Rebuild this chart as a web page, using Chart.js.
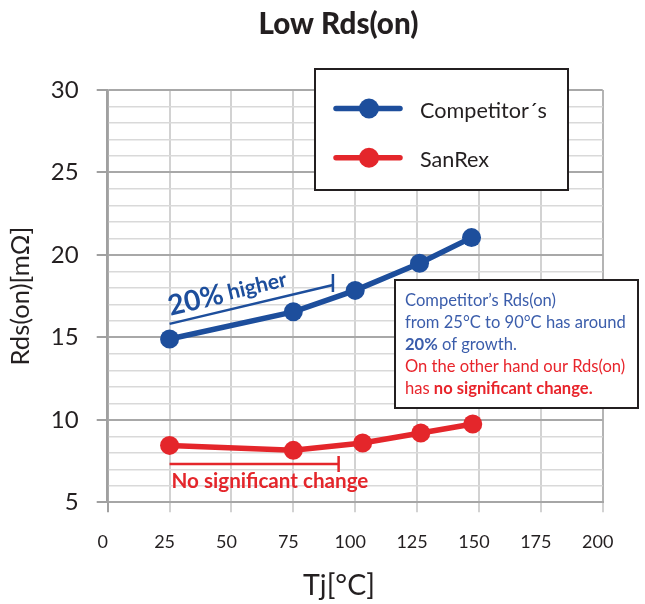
<!DOCTYPE html>
<html>
<head>
<meta charset="utf-8">
<script src="https://cdn.jsdelivr.net/npm/chart.js@4.4.1/dist/chart.umd.min.js"></script>
<style>
html,body{margin:0;padding:0;background:#ffffff;}
#wrap{width:645px;height:604px;position:relative;}
</style>
</head>
<body>
<div id="wrap"><canvas id="c" width="645" height="604"></canvas></div>
<script>
// ---- data ----
const chartTitle = 'Low Rds(on)';
const xAxisTitle = 'Tj[°C]';
const yAxisTitle = 'Rds(on)[mΩ]';
const seriesNames = ['Competitor´s', 'SanRex'];
const competitorTemps = [25, 75, 100, 126, 147];
const competitorRds = [14.9, 16.55, 17.85, 19.5, 21.05];
const sanrexTemps = [25, 75, 103, 126.5, 147.5];
const sanrexRds = [8.45, 8.15, 8.6, 9.2, 9.75];
const xTickValues = [0, 25, 50, 75, 100, 125, 150, 175, 200];
const yTickValues = [5, 10, 15, 20, 25, 30];
const higherLabel = ['20%', ' higher'];
const noChangeLabel = 'No significant change';
const noteLines = [
  [['Competitor’s Rds(on)', 0, 'b']],
  [['from 25°C to 90°C has around', 0, 'b']],
  [['20%', 1, 'b'], [' of growth.', 0, 'b']],
  [['On the other hand our Rds(on)', 0, 'r']],
  [['has ', 0, 'r'], ['no significant change.', 1, 'r']]
];

// ---- styles ----
const BLUE = '#1d4e9c', RED = '#e4262b';
const NOTE_BLUE = '#3b5dab', NOTE_RED = '#e8242b';
const TXT = '#231f20';
const FAM = 'Lato, "Noto Sans", sans-serif';

const mc = document.createElement('canvas').getContext('2d');
function fit(text, weight, width) {
  mc.font = weight + ' 100px ' + FAM;
  return 100 * width / mc.measureText(text).width;
}
const titleSize = fit(chartTitle, 900, 160);
const xTitleSize = fit(xAxisTitle, 400, 72);
const yTitleSize = fit(yAxisTitle, 400, 139);
const legendSize = fit(seriesNames[0], 400, 127);
const noteSize = fit(noteLines[1][0][0], 400, 221);
const noChangeSize = fit(noChangeLabel, 700, 197);
const pctSize = fit(higherLabel[0], 700, 56);
const higherSize = fit(higherLabel[1].trim(), 700, 60);

const yStep = [];
for (let v = yTickValues[0]; v <= yTickValues[yTickValues.length - 1]; v++) yStep.push(v);

const overlay = {
  id: 'overlay',
  afterDraw(chart) {
    const ctx = chart.ctx;
    const x = chart.scales.x, y = chart.scales.y;
    ctx.save();
    // title
    ctx.fillStyle = TXT;
    ctx.textAlign = 'left';
    ctx.textBaseline = 'alphabetic';
    ctx.font = '900 ' + titleSize + 'px ' + FAM;
    ctx.fillText(chartTitle, 258.5, 33.5);
    // x axis title
    ctx.font = '400 ' + xTitleSize + 'px ' + FAM;
    ctx.textAlign = 'center';
    ctx.fillText(xAxisTitle, 339, 595);

    // legend box
    ctx.fillStyle = '#ffffff';
    ctx.fillRect(315, 69, 253, 121);
    ctx.strokeStyle = TXT;
    ctx.lineWidth = 2;
    ctx.strokeRect(315, 69, 253, 121);
    const ly = [108.5, 157.7];
    chart.data.datasets.forEach((ds, i) => {
      ctx.strokeStyle = ds.borderColor;
      ctx.lineWidth = 5.5;
      ctx.lineCap = 'round';
      ctx.beginPath();
      ctx.moveTo(336, ly[i]);
      ctx.lineTo(400, ly[i]);
      ctx.stroke();
      ctx.fillStyle = ds.borderColor;
      ctx.beginPath();
      ctx.arc(369, ly[i], 10, 0, Math.PI * 2);
      ctx.fill();
      ctx.fillStyle = TXT;
      ctx.textAlign = 'left';
      ctx.font = '400 ' + legendSize + 'px ' + FAM;
      ctx.fillText(ds.label, 420, ly[i] + 9.5);
    });

    // note box
    ctx.fillStyle = '#ffffff';
    ctx.fillRect(395, 280, 243, 128);
    ctx.strokeStyle = TXT;
    ctx.lineWidth = 2;
    ctx.strokeRect(395, 280, 243, 128);
    ctx.textBaseline = 'alphabetic';
    noteLines.forEach((segs, i) => {
      let cx = 405;
      const by = 306 + i * 21.9;
      segs.forEach(s => {
        ctx.font = (s[1] ? '700 ' : '400 ') + noteSize + 'px ' + FAM;
        ctx.fillStyle = s[2] === 'b' ? NOTE_BLUE : NOTE_RED;
        ctx.fillText(s[0], cx, by);
        cx += ctx.measureText(s[0]).width;
      });
    });

    // "20% higher" bracket
    const bx0 = x.getPixelForValue(25), by0 = y.getPixelForValue(15.82);
    const bx1 = x.getPixelForValue(91), by1 = y.getPixelForValue(18.18);
    ctx.strokeStyle = BLUE;
    ctx.lineWidth = 2.5;
    ctx.lineCap = 'butt';
    ctx.beginPath();
    ctx.moveTo(bx0, by0); ctx.lineTo(bx1, by1);
    ctx.moveTo(bx1, by1 - 11); ctx.lineTo(bx1, by1 + 7);
    ctx.stroke();
    const ang = Math.atan2(by1 - by0, bx1 - bx0);
    ctx.save();
    ctx.translate(bx0 + 1, by0 - 8);
    ctx.rotate(ang);
    ctx.fillStyle = BLUE;
    ctx.textAlign = 'left';
    ctx.font = '700 ' + pctSize + 'px ' + FAM;
    ctx.fillText(higherLabel[0], 0, 0);
    const w0 = ctx.measureText(higherLabel[0]).width;
    ctx.font = '700 ' + higherSize + 'px ' + FAM;
    ctx.fillText(higherLabel[1], w0, -2);
    ctx.restore();

    // "No significant change" bracket
    const rx0 = x.getPixelForValue(25), rx1 = x.getPixelForValue(93.3);
    const ry = y.getPixelForValue(7.32);
    ctx.strokeStyle = RED;
    ctx.lineWidth = 2.5;
    ctx.beginPath();
    ctx.moveTo(rx0, ry); ctx.lineTo(rx1, ry);
    ctx.moveTo(rx1, ry - 8); ctx.lineTo(rx1, ry + 8);
    ctx.stroke();
    ctx.fillStyle = RED;
    ctx.font = '700 ' + noChangeSize + 'px ' + FAM;
    ctx.textAlign = 'left';
    ctx.fillText(noChangeLabel, 171.5, 487.5);
    ctx.restore();
  }
};

new Chart(document.getElementById('c'), {
  type: 'line',
  data: {
    datasets: [
      {
        label: seriesNames[0],
        data: competitorTemps.map((t, i) => ({x: t, y: competitorRds[i]})),
        borderColor: BLUE, backgroundColor: BLUE,
        borderWidth: 5.5, pointRadius: 9.5, pointBorderWidth: 0,
        pointBackgroundColor: BLUE, tension: 0, fill: false
      },
      {
        label: seriesNames[1],
        data: sanrexTemps.map((t, i) => ({x: t, y: sanrexRds[i]})),
        borderColor: RED, backgroundColor: RED,
        borderWidth: 5.5, pointRadius: 9.5, pointBorderWidth: 0,
        pointBackgroundColor: RED, tension: 0, fill: false
      }
    ]
  },
  options: {
    responsive: false,
    animation: false,
    events: [],
    layout: {padding: {top: 90, right: 42.3, bottom: 0, left: 0}},
    plugins: {legend: {display: false}, tooltip: {enabled: false}, title: {display: false}},
    scales: {
      x: {
        type: 'linear',
        min: xTickValues[0], max: xTickValues[xTickValues.length - 1],
        afterBuildTicks: s => { s.ticks = xTickValues.map(v => ({value: v})); },
        afterFit: s => { s.height = 101.7; },
        ticks: {font: {family: FAM, size: 18}, color: TXT, padding: 19, labelOffset: -5, maxRotation: 0, autoSkip: false},
        grid: {
          color: c => (c.tick && (c.tick.value === 0 || c.tick.value === 200)) ? '#b4b4b4' : '#d2d2d2',
          tickColor: c => (c.tick && c.tick.value === 0) ? '#a0a0a0' : '#d2d2d2',
          lineWidth: 2, tickLength: 10
        },
        border: {color: '#a6a6a6', width: 2}
      },
      y: {
        type: 'linear',
        min: yStep[0], max: yStep[yStep.length - 1],
        afterBuildTicks: s => { s.ticks = yStep.map(v => ({value: v})); },
        afterFit: s => { s.width = 107.7; },
        ticks: {
          font: {family: FAM, size: 24}, color: TXT, padding: 18, autoSkip: false,
          callback: v => yTickValues.includes(v) ? String(v) : ''
        },
        grid: {
          color: c => (c.tick && c.tick.value % 5 === 0) ? '#a8a8a8' : '#d9d9d9',
          lineWidth: c => (c.tick && c.tick.value % 5 === 0) ? 2 : 1.5,
          tickColor: c => (c.tick && c.tick.value % 5 === 0) ? '#a0a0a0' : 'rgba(0,0,0,0)',
          tickLength: 11
        },
        border: {color: '#a0a0a0', width: 2.5},
        title: {
          display: true, text: yAxisTitle, color: TXT,
          font: {family: FAM, size: yTitleSize, lineHeight: 1},
          padding: {top: 21 - yTitleSize / 2, bottom: 0}
        }
      }
    }
  },
  plugins: [overlay]
});
</script>
</body>
</html>
